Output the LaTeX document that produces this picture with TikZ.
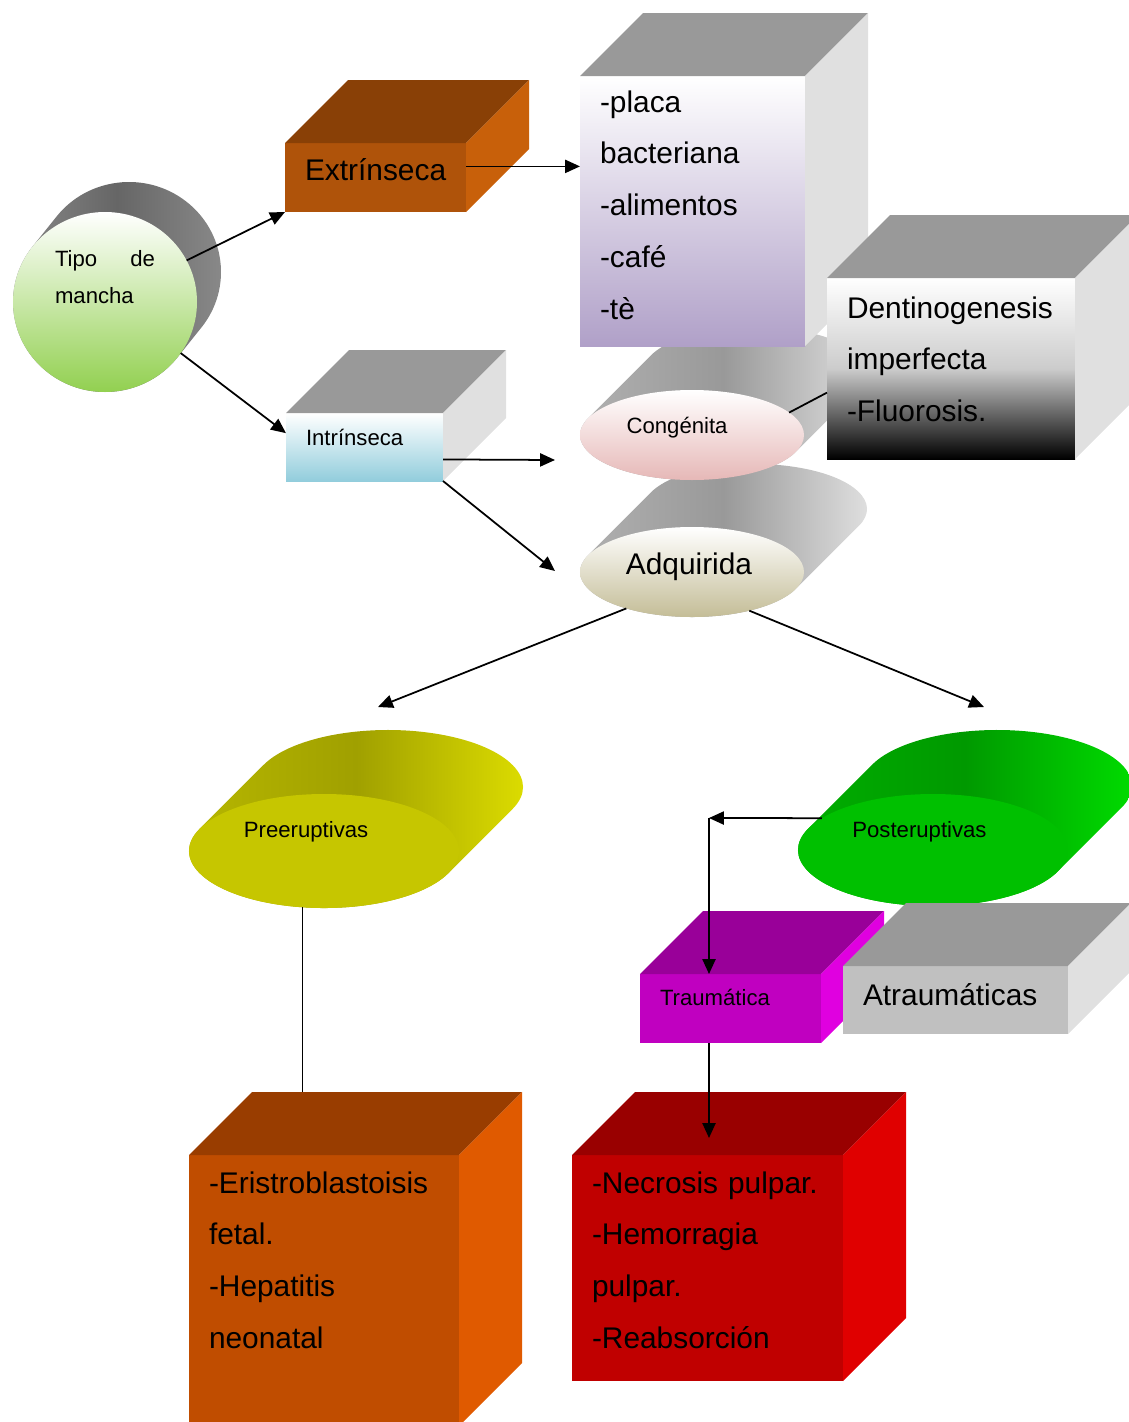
\documentclass[tikz,border=0pt]{standalone}
\usepackage{fontspec}
\setmainfont{Liberation Sans}
\usepackage{tikz}
\usetikzlibrary{shapes.geometric, arrows.meta, positioning, calc, backgrounds}

\definecolor{tipoBottom}{RGB}{146,208,80}
\definecolor{extrFront}{RGB}{175,83,10}
\definecolor{extrTop}{RGB}{137,64,6}
\definecolor{extrSide}{RGB}{200,96,10}
\definecolor{boxTop}{RGB}{153,153,153}
\definecolor{boxSide}{RGB}{224,224,224}
\definecolor{placaBottom}{RGB}{176,160,200}
\definecolor{intrBottom}{RGB}{146,205,220}
\definecolor{congBottom}{RGB}{230,184,183}
\definecolor{adqBottom}{RGB}{196,189,151}
\definecolor{preFront}{RGB}{198,198,0}
\definecolor{preLeft}{RGB}{185,185,0}
\definecolor{preMid}{RGB}{160,160,0}
\definecolor{preRight}{RGB}{226,226,0}
\definecolor{postFront}{RGB}{0,192,0}
\definecolor{postLeft}{RGB}{0,176,0}
\definecolor{postMid}{RGB}{0,153,0}
\definecolor{postRight}{RGB}{0,226,0}
\definecolor{traumaFront}{RGB}{192,0,192}
\definecolor{traumaTop}{RGB}{153,0,153}
\definecolor{traumaSide}{RGB}{224,0,224}
\definecolor{atraumaFront}{RGB}{192,192,192}
\definecolor{eritroFront}{RGB}{192,77,0}
\definecolor{eritroTop}{RGB}{153,61,0}
\definecolor{eritroSide}{RGB}{224,90,0}
\definecolor{necroFront}{RGB}{192,0,0}
\definecolor{necroTop}{RGB}{153,0,0}
\definecolor{necroSide}{RGB}{224,0,0}

\hyphenpenalty=10000
\exhyphenpenalty=10000

% top and side faces of a box
\newcommand{\cubo}[3]{%
  \fill[#2] (#1.north west) -- ++(63,63) -- ($(#1.north east)+(63,63)$) -- (#1.north east) -- cycle;
  \fill[#3] (#1.north east) -- ++(63,63) -- ($(#1.south east)+(63,63)$) -- (#1.south east) -- cycle;
}
% body of a cylinder behind its front ellipse
\newcommand{\banda}[7]{%
  \path[#7] ($(#1.center)+({#2*cos(#6)},{#3*sin(#6)})$) -- ++(#4,#5)
    arc[start angle=#6, end angle=#6-180, x radius=#2, y radius=#3] -- ++(-#4,-#5)
    arc[start angle=#6-180, end angle=#6-360, x radius=#2, y radius=#3] -- cycle;
}
\newcommand{\mover}[3]{\raisebox{#2}[\height][\depth]{\kern-#1\relax#3\kern#1\relax}}

\begin{document}
\begin{tikzpicture}[
        x=0.2mm, y=0.2mm,
        face/.style={rectangle, anchor=north west, inner xsep=4mm, inner ysep=0pt, outer sep=0pt, align=left},
        disc/.style={ellipse, inner sep=0pt, outer sep=0pt},
        bigtext/.style={font=\fontsize{17}{29.5}\selectfont},
        smalltext/.style={font=\fontsize{12.6}{21.5}\selectfont},
        arrow/.style={-{Triangle[length=8.5pt, width=7.5pt]}, line width=1pt},
        link/.style={line width=1pt}
    ]
        \useasboundingbox (0,0) rectangle (1129,-1422);

        % 1. Root
        \node (tipo) [disc, smalltext, minimum width=36.8mm, minimum height=36mm, top color=white, bottom color=tipoBottom] at (105,-302) {\mover{0pt}{14.2pt}{\parbox{20mm}{Tipo de mancha}}};

        % 2. Extrinsic / intrinsic
        \node (extr) [face, bigtext, text width=28.2mm, text height=7.4mm, text depth=6.4mm, fill=extrFront] at (285,-143) {Extrínseca};
        \cubo{extr}{extrTop}{extrSide}
        \node (intr) [face, smalltext, text width=23.4mm, text height=6.4mm, text depth=7.2mm, top color=white, bottom color=intrBottom] at (286,-413) {Intrínseca};
        \cubo{intr}{boxTop}{boxSide}

        % 3. Intrinsic kinds
        \node (adq) [disc, bigtext, minimum width=44.8mm, minimum height=18mm, top color=white, bottom color=adqBottom] at (692,-572) {\mover{1.7pt}{2.8pt}{Adquirida}};
        \node (cong) [disc, smalltext, minimum width=44.8mm, minimum height=18mm, top color=white, bottom color=congBottom] at (692,-435) {\mover{8.5pt}{4.4pt}{Congénita}};

        % 4. Lists
        \node (placa) [face, bigtext, text width=37mm, text height=7.2mm, text depth=46.8mm, top color=white, bottom color=placaBottom] at (580,-76) {-placa\\bacteriana\\-alimentos\\-café\\-tè};
        \cubo{placa}{boxTop}{boxSide}
        \node (dentino) [face, bigtext, text width=41.6mm, text height=8mm, text depth=28.2mm, top color=white, bottom color=black, middle color=black!20] at (827,-278) {Dentinogenesis\\imperfecta\\-Fluorosis.};
        \cubo{dentino}{boxTop}{boxSide}

        % 5. Acquired kinds
        \node (pre) [disc, smalltext, minimum width=54mm, minimum height=22.8mm, fill=preFront] at (324,-851) {\mover{10.2pt}{10.8pt}{Preeruptivas}};
        \node (post) [disc, smalltext, minimum width=54mm, minimum height=22.4mm, fill=postFront] at (933,-850) {\mover{7.7pt}{10.2pt}{Posteruptivas}};

        \node (trauma) [face, smalltext, text width=28.2mm, text height=6.2mm, text depth=7.6mm, fill=traumaFront] at (640,-974) {Traumática};
        \cubo{trauma}{traumaTop}{traumaSide}
        \node (atrauma) [face, bigtext, text width=37mm, text height=7.8mm, text depth=5.8mm, fill=atraumaFront] at (843,-966) {Atraumáticas};
        \cubo{atrauma}{boxTop}{boxSide}

        % 6. Bottom lists
        \node (eritro) [face, bigtext, text width=46mm, text height=7.6mm, text depth=46.6mm, fill=eritroFront] at (189,-1155) {-Eristroblastoisis\\fetal.\\-Hepatitis\\neonatal};
        \cubo{eritro}{eritroTop}{eritroSide}
        \node (necro) [face, bigtext, text width=46.2mm, text height=7.6mm, text depth=37.6mm, fill=necroFront] at (572,-1155) {-Necrosis pulpar.\\-Hemorragia\\pulpar.\\-Reabsorción};
        \cubo{necro}{necroTop}{necroSide}

        % cylinder bodies
        \begin{scope}[on background layer]
            \banda{tipo}{92}{90}{24}{30}{142}{left color=black!45, right color=black!45, middle color=black!60}
            \banda{cong}{112}{45}{63}{63}{158.1}{left color=black!30, right color=black!10, middle color=black!40}
            \banda{adq}{112}{45}{63}{63}{158.1}{left color=black!30, right color=black!10, middle color=black!40}
            \banda{pre}{135}{57}{64}{64}{157.1}{left color=preLeft, right color=preRight, middle color=preMid}
            \banda{post}{135}{56}{64}{64}{157.5}{left color=postLeft, right color=postRight, middle color=postMid}
        \end{scope}

        % Connections
        \coordinate (congIn) at (555,-460);
        \coordinate (adqIn) at (555,-571);
        \coordinate (preIn) at (378,-707);
        \coordinate (postIn) at (984,-707);
        \coordinate (corner) at (709,-818);
        \coordinate (eritroIn) at ($(eritro.north)+(0,63)$);
        \coordinate (necroIn) at ($(necro.north)+(0,17)$);

        \draw [arrow] (tipo.27) -- (extr.south west);
        \draw [arrow] (tipo.326) -- (intr.170);
        \draw [arrow] (extr.7) -- (extr.7 -| placa.west);
        \draw [arrow] (intr.351) -- (congIn);
        \draw [arrow] (intr.south east) -- (adqIn);
        \draw [link] (cong.13) -- (dentino.191);
        \draw [arrow] (adq.209) -- (preIn);
        \draw [arrow] (adq.326) -- (postIn);
        \draw [link] (pre.249) -- (pre.249 |- eritroIn);
        \draw [arrow] (post.164) -- (corner);
        \draw [arrow] (corner) -- (corner |- trauma.north);
        \draw [arrow] (corner |- trauma.south) -- (corner |- necroIn);

    \end{tikzpicture}
\end{document}
